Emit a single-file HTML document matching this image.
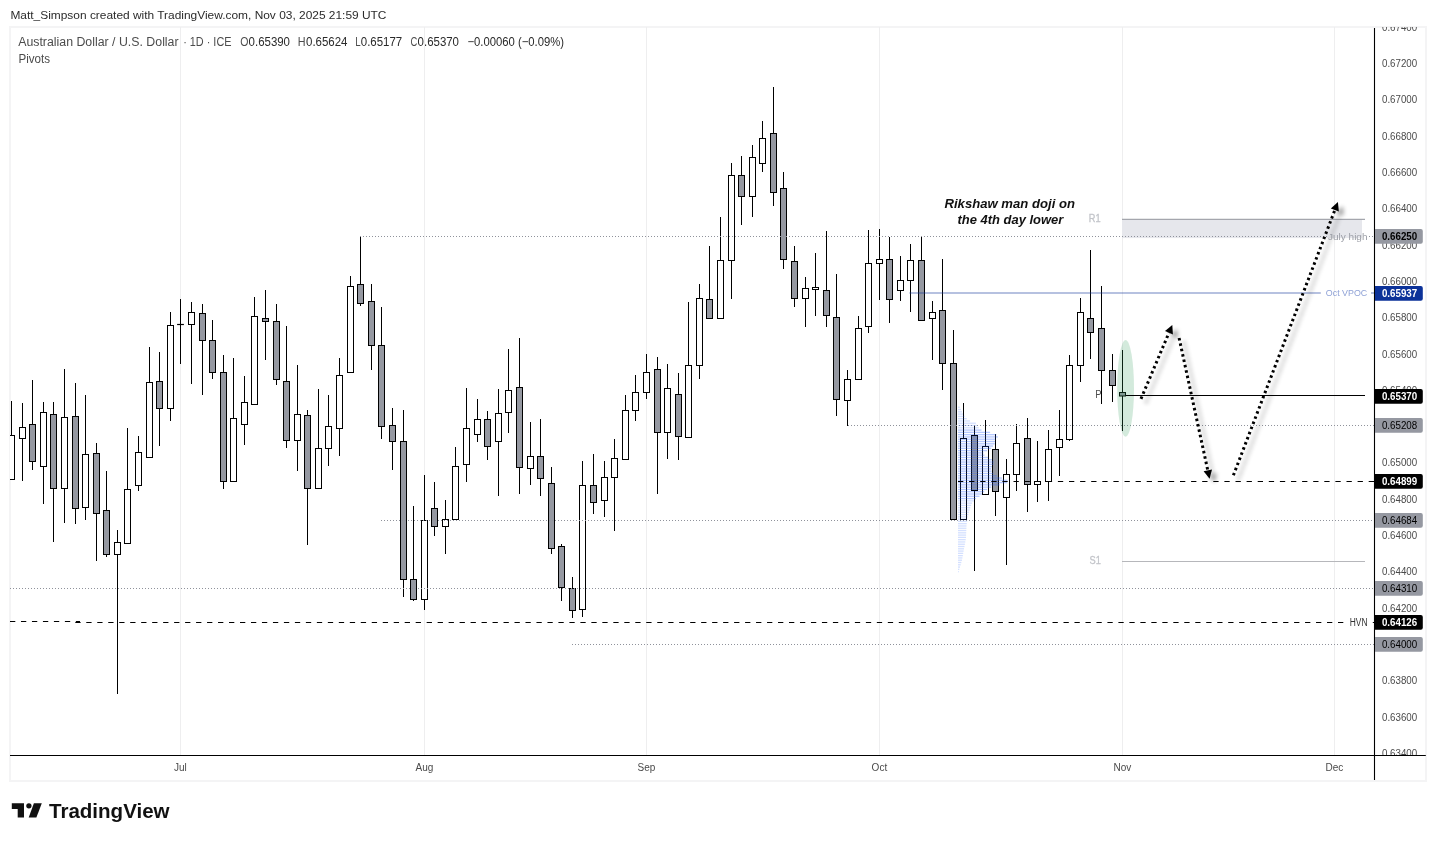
<!DOCTYPE html>
<html lang="en"><head><meta charset="utf-8"><title>AUDUSD chart</title>
<style>
html,body{margin:0;padding:0;background:#fff;}
body{width:1436px;height:841px;overflow:hidden;font-family:"Liberation Sans",sans-serif;}
svg{display:block;position:absolute;left:0;top:0;}
text{font-family:"Liberation Sans",sans-serif;}
</style></head><body>
<svg width="1436" height="841" viewBox="0 0 1436 841">
<defs>
<clipPath id="pane"><rect x="10" y="27" width="1364" height="728"/></clipPath>
<clipPath id="axis"><rect x="1375" y="27" width="51" height="728"/></clipPath>
<filter id="sh" x="-20%" y="-20%" width="150%" height="150%">
<feGaussianBlur in="SourceAlpha" stdDeviation="2.2" result="b"/>
<feOffset in="b" dx="5" dy="4" result="o"/>
<feComponentTransfer in="o" result="s"><feFuncA type="linear" slope="0.38"/></feComponentTransfer>
<feMerge><feMergeNode in="s"/><feMergeNode in="SourceGraphic"/></feMerge>
</filter>
</defs>
<rect x="0" y="0" width="1436" height="841" fill="#ffffff"/>

<rect x="10" y="27" width="1416" height="754" fill="#fff" stroke="#f4f4f5" stroke-width="2"/>
<g stroke="#eeeeef" stroke-width="1" clip-path="url(#pane)">
<line x1="180.5" y1="27" x2="180.5" y2="755"/>
<line x1="424.5" y1="27" x2="424.5" y2="755"/>
<line x1="646.5" y1="27" x2="646.5" y2="755"/>
<line x1="879.5" y1="27" x2="879.5" y2="755"/>
<line x1="1122.5" y1="27" x2="1122.5" y2="755"/>
<line x1="1334.5" y1="27" x2="1334.5" y2="755"/>
</g>
<g clip-path="url(#pane)">
<rect x="1122" y="219.6" width="240" height="18.5" fill="#e6e7ec"/>
<line x1="1122" y1="219.3" x2="1365" y2="219.3" stroke="#a4a6ad" stroke-width="1.3"/>
<line x1="1122" y1="561.5" x2="1365" y2="561.5" stroke="#b6b7bb" stroke-width="1"/>
</g>
<g clip-path="url(#pane)" stroke="#000" stroke-width="1">
<line x1="11.50" y1="401" x2="11.50" y2="479.5"/>
<rect x="8.50" y="435.5" width="6" height="44.0" fill="#fff"/>
<line x1="22.50" y1="403" x2="22.50" y2="481"/>
<rect x="19.50" y="427.5" width="6" height="11.0" fill="#fff"/>
<line x1="32.50" y1="380" x2="32.50" y2="470"/>
<rect x="29.50" y="424.5" width="6" height="37.0" fill="#9598a1"/>
<line x1="43.50" y1="402" x2="43.50" y2="504"/>
<rect x="40.50" y="412.5" width="6" height="54.0" fill="#fff"/>
<line x1="53.50" y1="402" x2="53.50" y2="542"/>
<rect x="50.50" y="414.5" width="6" height="74.0" fill="#9598a1"/>
<line x1="64.50" y1="369" x2="64.50" y2="523"/>
<rect x="61.50" y="417.5" width="6" height="71.0" fill="#fff"/>
<line x1="75.50" y1="383" x2="75.50" y2="524"/>
<rect x="72.50" y="416.5" width="6" height="92.0" fill="#9598a1"/>
<line x1="85.50" y1="395" x2="85.50" y2="520"/>
<rect x="82.50" y="454.5" width="6" height="53.0" fill="#fff"/>
<line x1="96.50" y1="443" x2="96.50" y2="561"/>
<rect x="93.50" y="453.5" width="6" height="60.0" fill="#9598a1"/>
<line x1="106.50" y1="471" x2="106.50" y2="557"/>
<rect x="103.50" y="510.5" width="6" height="44.0" fill="#9598a1"/>
<line x1="117.50" y1="530" x2="117.50" y2="694"/>
<rect x="114.50" y="542.5" width="6" height="12.0" fill="#fff"/>
<line x1="127.50" y1="428" x2="127.50" y2="543.5"/>
<rect x="124.50" y="489.5" width="6" height="54.0" fill="#fff"/>
<line x1="138.50" y1="436" x2="138.50" y2="491"/>
<rect x="135.50" y="452.5" width="6" height="33.0" fill="#fff"/>
<line x1="149.50" y1="347" x2="149.50" y2="457.5"/>
<rect x="146.50" y="382.5" width="6" height="75.0" fill="#fff"/>
<line x1="159.50" y1="352" x2="159.50" y2="446"/>
<rect x="156.50" y="381.5" width="6" height="27.0" fill="#9598a1"/>
<line x1="170.50" y1="312" x2="170.50" y2="421"/>
<rect x="167.50" y="325.5" width="6" height="83.0" fill="#fff"/>
<line x1="180.50" y1="299" x2="180.50" y2="364"/>
<line x1="177.10" y1="324.5" x2="183.90" y2="324.5" stroke-width="1.2"/>
<line x1="191.50" y1="302" x2="191.50" y2="384"/>
<rect x="188.50" y="312.5" width="6" height="12.0" fill="#fff"/>
<line x1="202.50" y1="304" x2="202.50" y2="395"/>
<rect x="199.50" y="313.5" width="6" height="27.0" fill="#9598a1"/>
<line x1="212.50" y1="320" x2="212.50" y2="379"/>
<rect x="209.50" y="340.5" width="6" height="32.0" fill="#9598a1"/>
<line x1="223.50" y1="355" x2="223.50" y2="489"/>
<rect x="220.50" y="372.5" width="6" height="109.0" fill="#9598a1"/>
<line x1="233.50" y1="358" x2="233.50" y2="481.5"/>
<rect x="230.50" y="418.5" width="6" height="63.0" fill="#fff"/>
<line x1="244.50" y1="376" x2="244.50" y2="445"/>
<rect x="241.50" y="402.5" width="6" height="22.0" fill="#fff"/>
<line x1="254.50" y1="297" x2="254.50" y2="404.5"/>
<rect x="251.50" y="316.5" width="6" height="88.0" fill="#fff"/>
<line x1="265.50" y1="290" x2="265.50" y2="360"/>
<rect x="262.50" y="318.5" width="6" height="3.0" fill="#9598a1"/>
<line x1="276.50" y1="304" x2="276.50" y2="385"/>
<rect x="273.50" y="321.5" width="6" height="58.0" fill="#9598a1"/>
<line x1="286.50" y1="326" x2="286.50" y2="448"/>
<rect x="283.50" y="381.5" width="6" height="59.0" fill="#9598a1"/>
<line x1="297.50" y1="365" x2="297.50" y2="471"/>
<rect x="294.50" y="414.5" width="6" height="26.0" fill="#fff"/>
<line x1="307.50" y1="410" x2="307.50" y2="545"/>
<rect x="304.50" y="415.5" width="6" height="73.0" fill="#9598a1"/>
<line x1="318.50" y1="389" x2="318.50" y2="488.5"/>
<rect x="315.50" y="448.5" width="6" height="40.0" fill="#fff"/>
<line x1="328.50" y1="395" x2="328.50" y2="466"/>
<rect x="325.50" y="426.5" width="6" height="22.0" fill="#fff"/>
<line x1="339.50" y1="358" x2="339.50" y2="456"/>
<rect x="336.50" y="375.5" width="6" height="53.0" fill="#fff"/>
<line x1="350.50" y1="276" x2="350.50" y2="372.5"/>
<rect x="347.50" y="286.5" width="6" height="86.0" fill="#fff"/>
<line x1="360.50" y1="236" x2="360.50" y2="306"/>
<rect x="357.50" y="284.5" width="6" height="19.0" fill="#9598a1"/>
<line x1="371.50" y1="284" x2="371.50" y2="370"/>
<rect x="368.50" y="301.5" width="6" height="44.0" fill="#9598a1"/>
<line x1="381.50" y1="307" x2="381.50" y2="439"/>
<rect x="378.50" y="345.5" width="6" height="81.0" fill="#9598a1"/>
<line x1="392.50" y1="408" x2="392.50" y2="470"/>
<rect x="389.50" y="425.5" width="6" height="16.0" fill="#9598a1"/>
<line x1="403.50" y1="410" x2="403.50" y2="597"/>
<rect x="400.50" y="441.5" width="6" height="138.0" fill="#9598a1"/>
<line x1="413.50" y1="506" x2="413.50" y2="601"/>
<rect x="410.50" y="579.5" width="6" height="20.0" fill="#9598a1"/>
<line x1="424.50" y1="475" x2="424.50" y2="610"/>
<rect x="421.50" y="520.5" width="6" height="79.0" fill="#fff"/>
<line x1="434.50" y1="482" x2="434.50" y2="536"/>
<rect x="431.50" y="508.5" width="6" height="18.0" fill="#9598a1"/>
<line x1="445.50" y1="500" x2="445.50" y2="554"/>
<rect x="442.50" y="519.5" width="6" height="7.0" fill="#fff"/>
<line x1="455.50" y1="447" x2="455.50" y2="519.5"/>
<rect x="452.50" y="466.5" width="6" height="53.0" fill="#fff"/>
<line x1="466.50" y1="388" x2="466.50" y2="482"/>
<rect x="463.50" y="428.5" width="6" height="36.0" fill="#fff"/>
<line x1="477.50" y1="399" x2="477.50" y2="442"/>
<rect x="474.50" y="419.5" width="6" height="15.0" fill="#fff"/>
<line x1="487.50" y1="411" x2="487.50" y2="460"/>
<rect x="484.50" y="419.5" width="6" height="27.0" fill="#9598a1"/>
<line x1="498.50" y1="389" x2="498.50" y2="496"/>
<rect x="495.50" y="413.5" width="6" height="28.0" fill="#fff"/>
<line x1="508.50" y1="349" x2="508.50" y2="433"/>
<rect x="505.50" y="390.5" width="6" height="22.0" fill="#fff"/>
<line x1="519.50" y1="338" x2="519.50" y2="494"/>
<rect x="516.50" y="387.5" width="6" height="80.0" fill="#9598a1"/>
<line x1="530.50" y1="422" x2="530.50" y2="485"/>
<rect x="527.50" y="456.5" width="6" height="12.0" fill="#fff"/>
<line x1="540.50" y1="419" x2="540.50" y2="496"/>
<rect x="537.50" y="456.5" width="6" height="22.0" fill="#9598a1"/>
<line x1="551.50" y1="467" x2="551.50" y2="554"/>
<rect x="548.50" y="483.5" width="6" height="65.0" fill="#9598a1"/>
<line x1="561.50" y1="544" x2="561.50" y2="601"/>
<rect x="558.50" y="546.5" width="6" height="41.0" fill="#9598a1"/>
<line x1="572.50" y1="577" x2="572.50" y2="618"/>
<rect x="569.50" y="588.5" width="6" height="22.0" fill="#9598a1"/>
<line x1="582.50" y1="461" x2="582.50" y2="617"/>
<rect x="579.50" y="485.5" width="6" height="124.0" fill="#fff"/>
<line x1="593.50" y1="454" x2="593.50" y2="514"/>
<rect x="590.50" y="485.5" width="6" height="17.0" fill="#9598a1"/>
<line x1="604.50" y1="461" x2="604.50" y2="517"/>
<rect x="601.50" y="477.5" width="6" height="23.0" fill="#fff"/>
<line x1="614.50" y1="439" x2="614.50" y2="531"/>
<rect x="611.50" y="458.5" width="6" height="19.0" fill="#fff"/>
<line x1="625.50" y1="395" x2="625.50" y2="459.5"/>
<rect x="622.50" y="410.5" width="6" height="49.0" fill="#fff"/>
<line x1="635.50" y1="375" x2="635.50" y2="421"/>
<rect x="632.50" y="392.5" width="6" height="18.0" fill="#fff"/>
<line x1="646.50" y1="354" x2="646.50" y2="399"/>
<rect x="643.50" y="372.5" width="6" height="20.0" fill="#fff"/>
<line x1="657.50" y1="357" x2="657.50" y2="494"/>
<rect x="654.50" y="369.5" width="6" height="63.0" fill="#9598a1"/>
<line x1="667.50" y1="364" x2="667.50" y2="459"/>
<rect x="664.50" y="388.5" width="6" height="44.0" fill="#fff"/>
<line x1="678.50" y1="373" x2="678.50" y2="460"/>
<rect x="675.50" y="394.5" width="6" height="42.0" fill="#9598a1"/>
<line x1="688.50" y1="302" x2="688.50" y2="437.5"/>
<rect x="685.50" y="365.5" width="6" height="72.0" fill="#fff"/>
<line x1="699.50" y1="284" x2="699.50" y2="379"/>
<rect x="696.50" y="298.5" width="6" height="67.0" fill="#fff"/>
<line x1="709.50" y1="246" x2="709.50" y2="318.5"/>
<rect x="706.50" y="299.5" width="6" height="19.0" fill="#9598a1"/>
<line x1="720.50" y1="217" x2="720.50" y2="318.5"/>
<rect x="717.50" y="260.5" width="6" height="58.0" fill="#fff"/>
<line x1="731.50" y1="163" x2="731.50" y2="299"/>
<rect x="728.50" y="175.5" width="6" height="85.0" fill="#fff"/>
<line x1="741.50" y1="156" x2="741.50" y2="225"/>
<rect x="738.50" y="175.5" width="6" height="21.0" fill="#9598a1"/>
<line x1="752.50" y1="145" x2="752.50" y2="217"/>
<rect x="749.50" y="157.5" width="6" height="39.0" fill="#fff"/>
<line x1="762.50" y1="121" x2="762.50" y2="172"/>
<rect x="759.50" y="138.5" width="6" height="25.0" fill="#fff"/>
<line x1="773.50" y1="87" x2="773.50" y2="206"/>
<rect x="770.50" y="133.5" width="6" height="59.0" fill="#9598a1"/>
<line x1="783.50" y1="172" x2="783.50" y2="269"/>
<rect x="780.50" y="188.5" width="6" height="71.0" fill="#9598a1"/>
<line x1="794.50" y1="246" x2="794.50" y2="307"/>
<rect x="791.50" y="261.5" width="6" height="37.0" fill="#9598a1"/>
<line x1="805.50" y1="277" x2="805.50" y2="327"/>
<rect x="802.50" y="288.5" width="6" height="10.0" fill="#fff"/>
<line x1="815.50" y1="253" x2="815.50" y2="316"/>
<rect x="812.50" y="287.5" width="6" height="2.0" fill="#fff"/>
<line x1="826.50" y1="231" x2="826.50" y2="327"/>
<rect x="823.50" y="290.5" width="6" height="25.0" fill="#9598a1"/>
<line x1="836.50" y1="274" x2="836.50" y2="416"/>
<rect x="833.50" y="317.5" width="6" height="82.0" fill="#9598a1"/>
<line x1="847.50" y1="370" x2="847.50" y2="426"/>
<rect x="844.50" y="379.5" width="6" height="21.0" fill="#fff"/>
<line x1="858.50" y1="316" x2="858.50" y2="379.5"/>
<rect x="855.50" y="328.5" width="6" height="51.0" fill="#fff"/>
<line x1="868.50" y1="230" x2="868.50" y2="333"/>
<rect x="865.50" y="263.5" width="6" height="63.0" fill="#fff"/>
<line x1="879.50" y1="229" x2="879.50" y2="300"/>
<rect x="876.50" y="259.5" width="6" height="4.0" fill="#fff"/>
<line x1="889.50" y1="237" x2="889.50" y2="323"/>
<rect x="886.50" y="259.5" width="6" height="40.0" fill="#9598a1"/>
<line x1="900.50" y1="256" x2="900.50" y2="301"/>
<rect x="897.50" y="280.5" width="6" height="10.0" fill="#fff"/>
<line x1="910.50" y1="244" x2="910.50" y2="312"/>
<rect x="907.50" y="260.5" width="6" height="20.0" fill="#fff"/>
<line x1="921.50" y1="237" x2="921.50" y2="320.5"/>
<rect x="918.50" y="260.5" width="6" height="60.0" fill="#9598a1"/>
<line x1="932.50" y1="301" x2="932.50" y2="360"/>
<rect x="929.50" y="312.5" width="6" height="6.0" fill="#fff"/>
<line x1="942.50" y1="259" x2="942.50" y2="390"/>
<rect x="939.50" y="310.5" width="6" height="53.0" fill="#9598a1"/>
<line x1="953.50" y1="330" x2="953.50" y2="519.5"/>
<rect x="950.50" y="363.5" width="6" height="156.0" fill="#9598a1"/>
<line x1="963.50" y1="403" x2="963.50" y2="519.5"/>
<rect x="960.50" y="438.5" width="6" height="81.0" fill="#fff"/>
<line x1="974.50" y1="425" x2="974.50" y2="571"/>
<rect x="971.50" y="435.5" width="6" height="55.0" fill="#9598a1"/>
<line x1="985.50" y1="420" x2="985.50" y2="494.5"/>
<rect x="982.50" y="446.5" width="6" height="48.0" fill="#fff"/>
<line x1="995.50" y1="434" x2="995.50" y2="516"/>
<rect x="992.50" y="449.5" width="6" height="42.0" fill="#9598a1"/>
<line x1="1006.50" y1="459" x2="1006.50" y2="565"/>
<rect x="1003.50" y="474.5" width="6" height="23.0" fill="#fff"/>
<line x1="1016.50" y1="424" x2="1016.50" y2="491"/>
<rect x="1013.50" y="443.5" width="6" height="31.0" fill="#fff"/>
<line x1="1027.50" y1="418" x2="1027.50" y2="512"/>
<rect x="1024.50" y="438.5" width="6" height="46.0" fill="#9598a1"/>
<line x1="1037.50" y1="441" x2="1037.50" y2="502"/>
<rect x="1034.50" y="481.5" width="6" height="3.0" fill="#fff"/>
<line x1="1048.50" y1="430" x2="1048.50" y2="501"/>
<rect x="1045.50" y="449.5" width="6" height="32.0" fill="#fff"/>
<line x1="1059.50" y1="410" x2="1059.50" y2="476"/>
<rect x="1056.50" y="439.5" width="6" height="8.0" fill="#fff"/>
<line x1="1069.50" y1="355" x2="1069.50" y2="441"/>
<rect x="1066.50" y="365.5" width="6" height="74.0" fill="#fff"/>
<line x1="1080.50" y1="298" x2="1080.50" y2="382"/>
<rect x="1077.50" y="312.5" width="6" height="53.0" fill="#fff"/>
<line x1="1090.50" y1="250" x2="1090.50" y2="359"/>
<rect x="1087.50" y="318.5" width="6" height="14.0" fill="#9598a1"/>
<line x1="1101.50" y1="286" x2="1101.50" y2="404"/>
<rect x="1098.50" y="328.5" width="6" height="42.0" fill="#9598a1"/>
<line x1="1112.50" y1="354" x2="1112.50" y2="402"/>
<rect x="1109.50" y="370.5" width="6" height="15.0" fill="#9598a1"/>
<line x1="1122.50" y1="350" x2="1122.50" y2="431"/>
<rect x="1119.50" y="392.5" width="6" height="3.5" fill="#9598a1"/>
</g>
<g clip-path="url(#pane)">
<line x1="360" y1="236.5" x2="1327" y2="236.5" stroke="#8f929b" stroke-width="1" stroke-dasharray="1 2"/>
<line x1="848" y1="425.5" x2="1374" y2="425.5" stroke="#8f929b" stroke-width="1" stroke-dasharray="1 2"/>
<line x1="381" y1="520.5" x2="1374" y2="520.5" stroke="#8f929b" stroke-width="1" stroke-dasharray="1 2"/>
<line x1="10" y1="588.5" x2="1374" y2="588.5" stroke="#8f929b" stroke-width="1" stroke-dasharray="1 2"/>
<line x1="572" y1="644.5" x2="1374" y2="644.5" stroke="#8f929b" stroke-width="1" stroke-dasharray="1 2"/>
<line x1="1369" y1="236.5" x2="1374" y2="236.5" stroke="#8f929b" stroke-width="1" stroke-dasharray="1 2"/>
<line x1="909.4" y1="293" x2="1320.8" y2="293" stroke="#0c3299" stroke-opacity="0.3" stroke-width="2"/>
<line x1="1371" y1="293" x2="1374" y2="293" stroke="#0c3299" stroke-opacity="0.3" stroke-width="2"/>
<line x1="10" y1="621.5" x2="80" y2="621.5" stroke="#000" stroke-width="1" stroke-dasharray="5.3 5.68"/>
<line x1="75.3" y1="622.5" x2="1346" y2="622.5" stroke="#000" stroke-width="1" stroke-dasharray="5.3 5.68"/>
<line x1="1372.8" y1="622.5" x2="1374" y2="622.5" stroke="#000" stroke-width="1"/>
</g>
<g clip-path="url(#pane)" fill="#2962ff">
<rect x="958" y="406.60" width="1.8" height="1.3" fill-opacity="0.2"/>
<rect x="958" y="408.88" width="2.8" height="1.3" fill-opacity="0.2"/>
<rect x="958" y="411.17" width="3.9" height="1.3" fill-opacity="0.2"/>
<rect x="958" y="413.45" width="5.0" height="1.3" fill-opacity="0.2"/>
<rect x="958" y="415.73" width="6.6" height="1.3" fill-opacity="0.2"/>
<rect x="958" y="418.02" width="8.8" height="1.3" fill-opacity="0.2"/>
<rect x="958" y="420.30" width="12.1" height="1.3" fill-opacity="0.2"/>
<rect x="958" y="422.58" width="17.9" height="1.3" fill-opacity="0.2"/>
<rect x="958" y="424.86" width="19.2" height="1.3" fill-opacity="0.2"/>
<rect x="958" y="427.15" width="20.7" height="1.3" fill-opacity="0.2"/>
<rect x="958" y="429.43" width="23.5" height="1.3" fill-opacity="0.34"/>
<rect x="958" y="431.71" width="32.1" height="1.3" fill-opacity="0.34"/>
<rect x="958" y="434.00" width="38.3" height="1.3" fill-opacity="0.34"/>
<rect x="958" y="436.28" width="39.8" height="1.3" fill-opacity="0.34"/>
<rect x="958" y="438.56" width="37.6" height="1.3" fill-opacity="0.34"/>
<rect x="958" y="440.85" width="37.2" height="1.3" fill-opacity="0.34"/>
<rect x="958" y="443.13" width="36.8" height="1.3" fill-opacity="0.34"/>
<rect x="958" y="445.41" width="35.0" height="1.3" fill-opacity="0.34"/>
<rect x="958" y="447.69" width="33.1" height="1.3" fill-opacity="0.34"/>
<rect x="958" y="449.98" width="29.1" height="1.3" fill-opacity="0.34"/>
<rect x="958" y="452.26" width="25.5" height="1.3" fill-opacity="0.34"/>
<rect x="958" y="454.54" width="26.5" height="1.3" fill-opacity="0.34"/>
<rect x="958" y="456.83" width="30.2" height="1.3" fill-opacity="0.34"/>
<rect x="958" y="459.11" width="33.9" height="1.3" fill-opacity="0.34"/>
<rect x="958" y="461.39" width="35.8" height="1.3" fill-opacity="0.34"/>
<rect x="958" y="463.68" width="35.5" height="1.3" fill-opacity="0.34"/>
<rect x="958" y="465.96" width="33.9" height="1.3" fill-opacity="0.34"/>
<rect x="958" y="468.24" width="33.2" height="1.3" fill-opacity="0.34"/>
<rect x="958" y="470.52" width="33.6" height="1.3" fill-opacity="0.34"/>
<rect x="958" y="472.81" width="35.4" height="1.3" fill-opacity="0.34"/>
<rect x="958" y="475.09" width="38.7" height="1.3" fill-opacity="0.34"/>
<rect x="958" y="477.37" width="43.9" height="1.3" fill-opacity="0.34"/>
<rect x="958" y="479.66" width="49.4" height="1.3" fill-opacity="0.34"/>
<rect x="958" y="481.94" width="49.2" height="1.3" fill-opacity="0.34"/>
<rect x="958" y="484.22" width="41.7" height="1.3" fill-opacity="0.34"/>
<rect x="958" y="486.51" width="33.3" height="1.3" fill-opacity="0.34"/>
<rect x="958" y="488.79" width="29.2" height="1.3" fill-opacity="0.34"/>
<rect x="958" y="491.07" width="26.2" height="1.3" fill-opacity="0.34"/>
<rect x="958" y="493.35" width="24.0" height="1.3" fill-opacity="0.34"/>
<rect x="958" y="495.64" width="21.5" height="1.3" fill-opacity="0.34"/>
<rect x="958" y="497.92" width="17.9" height="1.3" fill-opacity="0.34"/>
<rect x="958" y="500.20" width="15.9" height="1.3" fill-opacity="0.2"/>
<rect x="958" y="502.49" width="14.0" height="1.3" fill-opacity="0.2"/>
<rect x="958" y="504.77" width="13.1" height="1.3" fill-opacity="0.2"/>
<rect x="958" y="507.05" width="12.3" height="1.3" fill-opacity="0.2"/>
<rect x="958" y="509.34" width="11.6" height="1.3" fill-opacity="0.2"/>
<rect x="958" y="511.62" width="11.0" height="1.3" fill-opacity="0.2"/>
<rect x="958" y="513.90" width="10.4" height="1.3" fill-opacity="0.2"/>
<rect x="958" y="516.18" width="9.8" height="1.3" fill-opacity="0.2"/>
<rect x="958" y="518.47" width="9.4" height="1.3" fill-opacity="0.2"/>
<rect x="958" y="520.75" width="9.1" height="1.3" fill-opacity="0.2"/>
<rect x="958" y="523.03" width="8.8" height="1.3" fill-opacity="0.2"/>
<rect x="958" y="525.32" width="8.5" height="1.3" fill-opacity="0.2"/>
<rect x="958" y="527.60" width="8.4" height="1.3" fill-opacity="0.2"/>
<rect x="958" y="529.88" width="8.3" height="1.3" fill-opacity="0.2"/>
<rect x="958" y="532.17" width="8.2" height="1.3" fill-opacity="0.2"/>
<rect x="958" y="534.45" width="8.1" height="1.3" fill-opacity="0.2"/>
<rect x="958" y="536.73" width="8.0" height="1.3" fill-opacity="0.2"/>
<rect x="958" y="539.01" width="7.7" height="1.3" fill-opacity="0.2"/>
<rect x="958" y="541.30" width="7.3" height="1.3" fill-opacity="0.2"/>
<rect x="958" y="543.58" width="6.9" height="1.3" fill-opacity="0.2"/>
<rect x="958" y="545.86" width="6.5" height="1.3" fill-opacity="0.2"/>
<rect x="958" y="548.15" width="6.0" height="1.3" fill-opacity="0.2"/>
<rect x="958" y="550.43" width="5.6" height="1.3" fill-opacity="0.2"/>
<rect x="958" y="552.71" width="5.2" height="1.3" fill-opacity="0.2"/>
<rect x="958" y="555.00" width="4.8" height="1.3" fill-opacity="0.2"/>
<rect x="958" y="557.28" width="4.4" height="1.3" fill-opacity="0.2"/>
<rect x="958" y="559.56" width="4.0" height="1.3" fill-opacity="0.2"/>
<rect x="958" y="561.84" width="3.3" height="1.3" fill-opacity="0.2"/>
<rect x="958" y="564.13" width="2.7" height="1.3" fill-opacity="0.2"/>
<rect x="958" y="566.41" width="2.0" height="1.3" fill-opacity="0.2"/>
<rect x="958" y="568.69" width="1.3" height="1.3" fill-opacity="0.2"/>
<rect x="958" y="570.98" width="0.8" height="1.3" fill-opacity="0.2"/>
</g>
<line x1="958" y1="481.5" x2="1374" y2="481.5" stroke="#000" stroke-width="1" stroke-dasharray="5.3 5.8"/>
<ellipse cx="1125.6" cy="388.4" rx="8.4" ry="48.3" fill="#2e9e5b" fill-opacity="0.21"/>
<line x1="1126" y1="395.5" x2="1365" y2="395.5" stroke="#000" stroke-width="1"/>
<g filter="url(#sh)">
<line x1="1141" y1="398.8" x2="1168.98" y2="332.73" stroke="#000" stroke-width="3" stroke-dasharray="2.5 3"/>
<polygon points="1172.30,324.90 1172.94,334.40 1165.03,331.05" fill="#000"/>
<line x1="1179.1" y1="338" x2="1207.80" y2="470.39" stroke="#000" stroke-width="3" stroke-dasharray="2.5 3"/>
<polygon points="1209.60,478.70 1203.60,471.30 1212.00,469.48" fill="#000"/>
<line x1="1233.4" y1="475.3" x2="1334.86" y2="210.04" stroke="#000" stroke-width="3" stroke-dasharray="2.5 3"/>
<polygon points="1337.90,202.10 1338.88,211.58 1330.85,208.50" fill="#000"/>
</g>
<line x1="1374.5" y1="28" x2="1374.5" y2="780" stroke="#000" stroke-width="1.1"/>
<line x1="10" y1="755.5" x2="1425.8" y2="755.5" stroke="#000" stroke-width="1.15"/>
<g clip-path="url(#axis)" font-size="10" fill="#4a4a4a">
<text x="1382" y="31.25" textLength="35.2" lengthAdjust="spacingAndGlyphs">0.67400</text>
<text x="1382" y="67.25" textLength="35.2" lengthAdjust="spacingAndGlyphs">0.67200</text>
<text x="1382" y="103.25" textLength="35.2" lengthAdjust="spacingAndGlyphs">0.67000</text>
<text x="1382" y="140.25" textLength="35.2" lengthAdjust="spacingAndGlyphs">0.66800</text>
<text x="1382" y="176.25" textLength="35.2" lengthAdjust="spacingAndGlyphs">0.66600</text>
<text x="1382" y="212.25" textLength="35.2" lengthAdjust="spacingAndGlyphs">0.66400</text>
<text x="1382" y="249.25" textLength="35.2" lengthAdjust="spacingAndGlyphs">0.66200</text>
<text x="1382" y="285.25" textLength="35.2" lengthAdjust="spacingAndGlyphs">0.66000</text>
<text x="1382" y="321.25" textLength="35.2" lengthAdjust="spacingAndGlyphs">0.65800</text>
<text x="1382" y="358.25" textLength="35.2" lengthAdjust="spacingAndGlyphs">0.65600</text>
<text x="1382" y="394.25" textLength="35.2" lengthAdjust="spacingAndGlyphs">0.65400</text>
<text x="1382" y="430.25" textLength="35.2" lengthAdjust="spacingAndGlyphs">0.65200</text>
<text x="1382" y="466.25" textLength="35.2" lengthAdjust="spacingAndGlyphs">0.65000</text>
<text x="1382" y="503.25" textLength="35.2" lengthAdjust="spacingAndGlyphs">0.64800</text>
<text x="1382" y="539.25" textLength="35.2" lengthAdjust="spacingAndGlyphs">0.64600</text>
<text x="1382" y="575.25" textLength="35.2" lengthAdjust="spacingAndGlyphs">0.64400</text>
<text x="1382" y="612.25" textLength="35.2" lengthAdjust="spacingAndGlyphs">0.64200</text>
<text x="1382" y="648.25" textLength="35.2" lengthAdjust="spacingAndGlyphs">0.64000</text>
<text x="1382" y="684.25" textLength="35.2" lengthAdjust="spacingAndGlyphs">0.63800</text>
<text x="1382" y="721.25" textLength="35.2" lengthAdjust="spacingAndGlyphs">0.63600</text>
<text x="1382" y="757.25" textLength="35.2" lengthAdjust="spacingAndGlyphs">0.63400</text>
</g>
<path d="M1375 229.1H1420.8a2 2 0 0 1 2 2V241.85a2 2 0 0 1 -2 2H1375Z" fill="#9598a1"/>
<text x="1381.9" y="240.35" font-size="10" font-weight="bold" fill="#000" textLength="35.3" lengthAdjust="spacingAndGlyphs">0.66250</text>
<path d="M1375 286.1H1420.8a2 2 0 0 1 2 2V298.85a2 2 0 0 1 -2 2H1375Z" fill="#0c3299"/>
<text x="1381.9" y="297.35" font-size="10" font-weight="bold" fill="#fff" textLength="35.3" lengthAdjust="spacingAndGlyphs">0.65937</text>
<path d="M1375 389.1H1420.8a2 2 0 0 1 2 2V401.85a2 2 0 0 1 -2 2H1375Z" fill="#000"/>
<text x="1381.9" y="400.35" font-size="10" font-weight="bold" fill="#fff" textLength="35.3" lengthAdjust="spacingAndGlyphs">0.65370</text>
<path d="M1375 418.1H1420.8a2 2 0 0 1 2 2V430.85a2 2 0 0 1 -2 2H1375Z" fill="#9598a1"/>
<text x="1381.9" y="429.35" font-size="10" font-weight="normal" fill="#000" textLength="35.3" lengthAdjust="spacingAndGlyphs">0.65208</text>
<path d="M1375 474.1H1420.8a2 2 0 0 1 2 2V486.85a2 2 0 0 1 -2 2H1375Z" fill="#000"/>
<text x="1381.9" y="485.35" font-size="10" font-weight="bold" fill="#fff" textLength="35.3" lengthAdjust="spacingAndGlyphs">0.64899</text>
<path d="M1375 513.1H1420.8a2 2 0 0 1 2 2V525.85a2 2 0 0 1 -2 2H1375Z" fill="#9598a1"/>
<text x="1381.9" y="524.35" font-size="10" font-weight="normal" fill="#000" textLength="35.3" lengthAdjust="spacingAndGlyphs">0.64684</text>
<path d="M1375 581.1H1420.8a2 2 0 0 1 2 2V593.85a2 2 0 0 1 -2 2H1375Z" fill="#9598a1"/>
<text x="1381.9" y="592.35" font-size="10" font-weight="normal" fill="#000" textLength="35.3" lengthAdjust="spacingAndGlyphs">0.64310</text>
<path d="M1375 615.1H1420.8a2 2 0 0 1 2 2V627.85a2 2 0 0 1 -2 2H1375Z" fill="#000"/>
<text x="1381.9" y="626.35" font-size="10" font-weight="bold" fill="#fff" textLength="35.3" lengthAdjust="spacingAndGlyphs">0.64126</text>
<path d="M1375 637.1H1420.8a2 2 0 0 1 2 2V649.85a2 2 0 0 1 -2 2H1375Z" fill="#9598a1"/>
<text x="1381.9" y="648.35" font-size="10" font-weight="normal" fill="#000" textLength="35.3" lengthAdjust="spacingAndGlyphs">0.64000</text>
<text x="1328" y="239.8" font-size="9.7" fill="#9b9ea6" textLength="39.5" lengthAdjust="spacingAndGlyphs">July high</text>
<text x="1325.8" y="295.8" font-size="9.7" fill="#8fa2d6" textLength="41.4" lengthAdjust="spacingAndGlyphs">Oct VPOC</text>
<text x="1349.7" y="625.7" font-size="10" fill="#333" textLength="17.8" lengthAdjust="spacingAndGlyphs">HVN</text>
<text x="1088.8" y="221.7" font-size="11.8" fill="#c3c5ca" stroke="#c3c5ca" stroke-width="0.35" textLength="11.8" lengthAdjust="spacingAndGlyphs">R1</text>
<text x="1089.6" y="563.9" font-size="11.8" fill="#c3c5ca" stroke="#c3c5ca" stroke-width="0.35" textLength="11.3" lengthAdjust="spacingAndGlyphs">S1</text>
<text x="1095.2" y="398" font-size="11.8" fill="#4e4e4e" textLength="6.3" lengthAdjust="spacingAndGlyphs">P</text>
<g font-size="13.2" font-weight="bold" font-style="italic" fill="#111">
<text x="944.5" y="207.9" textLength="130.5" lengthAdjust="spacingAndGlyphs">Rikshaw man doji on</text>
<text x="957.5" y="223.7" textLength="105.8" lengthAdjust="spacingAndGlyphs">the 4th day lower</text>
</g>
<g font-size="10" fill="#4a4a4a" text-anchor="middle">
<text x="180.4" y="770.9">Jul</text>
<text x="424.4" y="770.9">Aug</text>
<text x="646.4" y="770.9">Sep</text>
<text x="879.4" y="770.9">Oct</text>
<text x="1122.4" y="770.9">Nov</text>
<text x="1334.4" y="770.9">Dec</text>
</g>
<text x="10.4" y="18.9" font-size="11.6" fill="#2b2b2b" textLength="376.1" lengthAdjust="spacingAndGlyphs">Matt_Simpson created with TradingView.com, Nov 03, 2025 21:59 UTC</text>
<g font-size="12.3" fill="#4c4c4c">
<text x="18.2" y="46" textLength="160.4" lengthAdjust="spacingAndGlyphs">Australian Dollar / U.S. Dollar</text>
<text x="183.2" y="46" textLength="48.3" lengthAdjust="spacingAndGlyphs">· 1D · ICE</text>
<text x="240.2" y="46" textLength="8.2" lengthAdjust="spacingAndGlyphs">O</text>
<text x="248.6" y="46" fill="#2a2a2a" textLength="41.4" lengthAdjust="spacingAndGlyphs">0.65390</text>
<text x="297.8" y="46" textLength="7.8" lengthAdjust="spacingAndGlyphs">H</text>
<text x="306" y="46" fill="#2a2a2a" textLength="41.5" lengthAdjust="spacingAndGlyphs">0.65624</text>
<text x="355.2" y="46" textLength="5.4" lengthAdjust="spacingAndGlyphs">L</text>
<text x="360.8" y="46" fill="#2a2a2a" textLength="41.4" lengthAdjust="spacingAndGlyphs">0.65177</text>
<text x="410.6" y="46" textLength="6.8" lengthAdjust="spacingAndGlyphs">C</text>
<text x="417.6" y="46" fill="#2a2a2a" textLength="41.4" lengthAdjust="spacingAndGlyphs">0.65370</text>
<text x="467.4" y="46" fill="#2a2a2a" textLength="96.7" lengthAdjust="spacingAndGlyphs">−0.00060 (−0.09%)</text>
<text x="18.4" y="62.6" textLength="31.6" lengthAdjust="spacingAndGlyphs">Pivots</text>
</g>
<g fill="#111">
<path d="M11.8 803.2H24V817.6H17.7V809.1H11.8Z"/>
<circle cx="28.9" cy="805.8" r="2.65"/>
<path d="M33.9 803.2H41.8L36.4 817.6H28.7Z"/>
<text x="49" y="817.6" font-size="20.7" font-weight="bold" textLength="120.6" lengthAdjust="spacingAndGlyphs">TradingView</text>
</g>
</svg>
</body></html>
